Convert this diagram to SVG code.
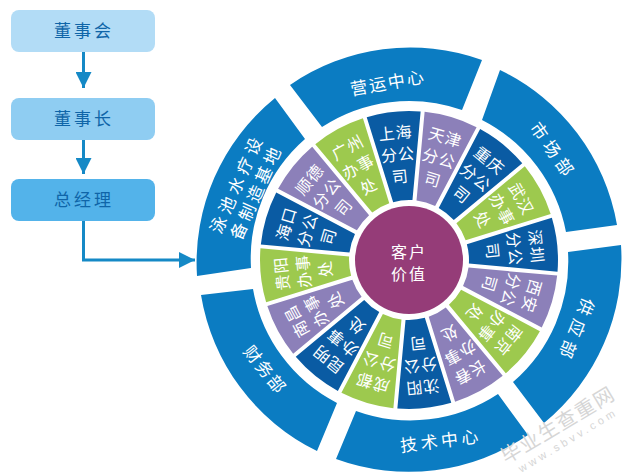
<svg xmlns="http://www.w3.org/2000/svg" width="630" height="476" viewBox="0 0 630 476">
<style>
text{font-family:"Liberation Sans","Noto Sans CJK SC",sans-serif;text-anchor:middle}
.box{font-size:17px;fill:#0f65a8;letter-spacing:3px}
.w{font-size:16px;fill:#fff;letter-spacing:1px}
.o{font-size:17px;fill:#fff}
.out{fill:#0b7cc2}
.b{fill:#0a5ba3}.p{fill:#8c80b9}.g{fill:#9dc94e}
.line{fill:none;stroke:#1589c6;stroke-width:3}
</style>
<defs>
<path id="wedge" d="M-27.1 -146.5A149 149 0 0 1 27.1 -146.5L9.7 -59.2A60 60 0 0 0 -9.7 -59.2Z"/>
<marker id="ah" markerUnits="userSpaceOnUse" markerWidth="18" markerHeight="16" refX="16" refY="8" orient="auto"><path d="M0 0L16 8L0 16Z" fill="#1589c6"/></marker>
</defs>
<rect width="630" height="476" fill="#fff"/>
<g id="connectors">
<path class="line" d="M83.5 52V88" marker-end="url(#ah)"/>
<path class="line" d="M83.5 140V174" marker-end="url(#ah)"/>
<path class="line" d="M83.5 221V260H195" marker-end="url(#ah)"/>
</g>
<g id="n-board"><rect x="11" y="10" width="144" height="42" rx="8" fill="#b2dcf6"/><text class="box" x="84" y="37">董事会</text></g>
<g id="n-chair"><rect x="11" y="98" width="144" height="42" rx="8" fill="#8fcdf2"/><text class="box" x="84" y="125">董事长</text></g>
<g id="n-gm"><rect x="11" y="179" width="144" height="42" rx="8" fill="#53b3ea"/><text class="box" x="84" y="206">总经理</text></g>

<g id="o-ops"><path class="out" d="M290 85A212 212 0 0 1 482 60L462 110A159 159 0 0 0 322 127Z"/><text class="o" transform="rotate(-10 388 83)" x="388" y="89" letter-spacing="2">营运中心</text></g>
<g id="o-market"><path class="out" d="M500 70A212 212 0 0 1 617 225L566 232A159 159 0 0 0 482 120Z"/><text class="o" transform="rotate(55 553 151)" x="553" y="157" letter-spacing="5">市场部</text></g>
<g id="o-supply"><path class="out" d="M621 245A212 212 0 0 1 544 423L513 382A159 159 0 0 0 568 252Z"/><text class="o" transform="rotate(113 409 260)" x="409" y="85" letter-spacing="6">供应部</text></g>
<g id="o-tech"><path class="out" d="M528 435A212 212 0 0 1 336 459L356 411A159 159 0 0 0 498 394Z"/><text class="o" x="441" y="447" transform="rotate(-7 441 441)" letter-spacing="3.5">技术中心</text></g>
<g id="o-finance"><path class="out" d="M317 451A212 212 0 0 1 201 295L253 289A159 159 0 0 0 337 403Z"/><text class="o" transform="rotate(51 265 370)" x="265" y="376" letter-spacing="2">财务部</text></g>
<g id="o-pool"><path class="out" d="M197 276A212 212 0 0 1 275 98L305 139A159 159 0 0 0 251 268Z"/>
<text class="o" transform="rotate(-66 409 260)" x="409" y="78" letter-spacing="4.5">泳池水疗设</text><text class="o" transform="rotate(-66 409 260)" x="409" y="99" letter-spacing="3.5">备制造基地</text></g>

<g id="hub"><circle cx="409" cy="260" r="54" fill="#953c78"/><text x="409" y="258" font-size="16" fill="#fff" letter-spacing="2">客户</text><text x="409" y="280" font-size="16" fill="#fff" letter-spacing="2">价值</text></g>

<g id="w-shanghai" transform="translate(409 260) rotate(-6)"><use href="#wedge" class="b"/><text class="w" y="-122">上海</text><text class="w" y="-100">分公</text><text class="w" y="-78">司</text></g>
<g id="w-tianjin" transform="translate(409 260) rotate(16.5)"><use href="#wedge" class="p"/><text class="w" y="-122">天津</text><text class="w" y="-100">分公</text><text class="w" y="-78">司</text></g>
<g id="w-chongqing" transform="translate(409 260) rotate(39)"><use href="#wedge" class="b"/><text class="w" y="-122">重庆</text><text class="w" y="-100">分公</text><text class="w" y="-78">司</text></g>
<g id="w-wuhan" transform="translate(409 260) rotate(61.5)"><use href="#wedge" class="g"/><text class="w" y="-122">武汉</text><text class="w" y="-100">办事</text><text class="w" y="-78">处</text></g>
<g id="w-shenzhen" transform="translate(409 260) rotate(84)"><use href="#wedge" class="b"/><text class="w" y="-122">深圳</text><text class="w" y="-100">分公</text><text class="w" y="-78">司</text></g>
<g id="w-xian" transform="translate(409 260) rotate(106.5)"><use href="#wedge" class="p"/><text class="w" y="-122">西安</text><text class="w" y="-100">分公</text><text class="w" y="-78">司</text></g>
<g id="w-nanjing" transform="translate(409 260) rotate(129)"><use href="#wedge" class="g"/><text class="w" y="-122">南京</text><text class="w" y="-100">办事</text><text class="w" y="-78">处</text></g>
<g id="w-changchun" transform="translate(409 260) rotate(151.5)"><use href="#wedge" class="p"/><text class="w" y="-122">长春</text><text class="w" y="-100">办事</text><text class="w" y="-78">处</text></g>
<g id="w-shenyang" transform="translate(409 260) rotate(174)"><use href="#wedge" class="b"/><text class="w" y="-122">沈阳</text><text class="w" y="-100">分公</text><text class="w" y="-78">司</text></g>
<g id="w-chengdu" transform="translate(409 260) rotate(196.5)"><use href="#wedge" class="g"/><text class="w" y="-122">成都</text><text class="w" y="-100">分公</text><text class="w" y="-78">司</text></g>
<g id="w-kunming" transform="translate(409 260) rotate(219)"><use href="#wedge" class="b"/><text class="w" y="-122">昆明</text><text class="w" y="-100">办事</text><text class="w" y="-78">处</text></g>
<g id="w-nanchang" transform="translate(409 260) rotate(241.5)"><use href="#wedge" class="p"/><text class="w" y="-122">南昌</text><text class="w" y="-100">办事</text><text class="w" y="-78">处</text></g>
<g id="w-guiyang" transform="translate(409 260) rotate(264)"><use href="#wedge" class="g"/><text class="w" y="-122">贵阳</text><text class="w" y="-100">办事</text><text class="w" y="-78">处</text></g>
<g id="w-haikou" transform="translate(409 260) rotate(286.5)"><use href="#wedge" class="b"/><text class="w" y="-122">海口</text><text class="w" y="-100">分公</text><text class="w" y="-78">司</text></g>
<g id="w-shunde" transform="translate(409 260) rotate(309)"><use href="#wedge" class="p"/><text class="w" y="-122">顺德</text><text class="w" y="-100">分公</text><text class="w" y="-78">司</text></g>
<g id="w-guangzhou" transform="translate(409 260) rotate(331.5)"><use href="#wedge" class="g"/><text class="w" y="-122">广州</text><text class="w" y="-100">办事</text><text class="w" y="-78">处</text></g>

<g id="watermark" fill="#d6d6d6"><text x="558" y="432" font-size="20" letter-spacing="1.5" transform="rotate(-31 558 425)">毕业生查重网</text><text x="568" y="444" font-size="11" letter-spacing="3.5" transform="rotate(-31 568 440)">www.sbvv.com</text></g>
</svg>
